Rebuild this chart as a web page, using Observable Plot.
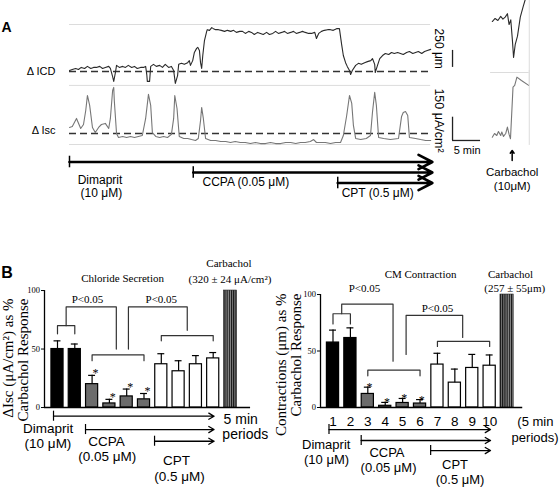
<!DOCTYPE html>
<html><head><meta charset="utf-8">
<script src="https://cdn.jsdelivr.net/npm/d3@7"></script>
<script src="https://cdn.jsdelivr.net/npm/@observablehq/plot@0.6"></script>
<style>
body{margin:0;background:#fff;}
#wrap{position:relative;width:560px;height:488px;overflow:hidden;background:#fff;}
.pane{position:absolute;}
.pane svg{overflow:visible;display:block;}
</style></head><body><div id="wrap"></div>
<script>
// ---------- Panel A data (time in min, ICD in µm, Isc in µA/cm²) ----------
const icdTrace = [[0,15],[0.5,30],[1.1,45],[1.6,30],[2.1,60],[2.7,45],[3.2,75],[3.8,45],[4.3,60],[4.8,60],[5.4,75],[5.9,45],[6.4,60],[7.0,75],[7.3,45],[7.7,-75],[7.9,-145],[8.2,-15],[8.4,90],[8.9,60],[9.5,75],[10.0,60],[10.5,90],[11.1,60],[11.6,75],[12.1,45],[12.7,60],[13.2,60],[13.6,75],[13.8,-45],[13.9,-145],[14.3,-145],[14.5,75],[15.0,105],[15.5,75],[16.1,90],[16.6,60],[17.1,105],[17.7,60],[18.2,75],[18.6,15],[18.9,-175],[19.3,-60],[19.5,105],[20.0,120],[20.5,105],[21.1,130],[21.4,160],[21.6,90],[22.0,160],[22.3,280],[22.7,340],[22.9,355],[23.2,310],[23.4,130],[23.6,45],[23.8,235],[24.1,455],[24.5,590],[24.6,615],[25.0,605],[25.4,645],[25.7,630],[26.1,615],[26.6,615],[27.1,605],[27.7,590],[28.2,605],[28.8,590],[29.3,605],[29.8,575],[30.4,590],[30.9,590],[31.4,560],[32.0,590],[32.5,575],[33.0,545],[33.6,575],[34.1,560],[34.6,545],[35.2,575],[35.7,545],[36.3,560],[36.8,590],[37.3,560],[37.9,575],[38.4,590],[38.9,560],[39.5,575],[40.0,590],[40.5,560],[41.1,575],[41.6,590],[42.1,575],[42.7,560],[43.2,560],[43.8,575],[44.1,485],[44.5,560],[45.0,590],[45.5,605],[46.1,615],[46.6,615],[47.1,605],[47.7,630],[48.2,630],[48.6,395],[48.9,235],[49.3,130],[49.6,75],[50.0,15],[50.2,-45],[50.5,15],[51.1,90],[51.6,120],[52.1,105],[52.7,130],[53.2,145],[53.8,160],[54.1,190],[54.5,105],[54.6,-15],[55.0,90],[55.4,190],[55.9,235],[56.4,265],[57.0,250],[57.5,280],[58.0,265],[58.6,280],[59.1,265],[59.6,250],[60.2,280],[60.7,295],[61.3,265],[61.8,280],[62.3,295],[62.9,265],[63.4,295],[63.9,310],[64.5,325]];
const iscTrace = [[0,39],[0.5,45],[1.25,97],[2.0,32],[2.5,58],[2.9,148],[3.2,245],[3.6,181],[4.1,39],[4.6,6],[5.2,39],[5.7,58],[6.4,65],[7.0,32],[7.3,97],[7.7,277],[7.9,297],[8.0,213],[8.4,0],[8.75,-26],[9.5,-19],[10.2,-26],[10.9,-19],[11.6,-26],[12.3,-19],[13.0,-13],[13.6,97],[14.1,252],[14.5,181],[14.8,6],[15.4,-19],[16.1,-26],[16.8,-19],[17.5,-26],[18.2,-6],[18.6,97],[18.8,245],[19.2,161],[19.6,-19],[20.4,-32],[21.1,-32],[21.8,-39],[22.5,-45],[23.0,-32],[23.4,84],[23.6,168],[23.9,97],[24.3,-32],[25.2,-45],[26.1,-45],[27.0,-52],[27.9,-52],[28.75,-58],[29.6,-52],[30.5,-58],[31.4,-58],[32.3,-65],[33.2,-58],[34.1,-65],[35.0,-65],[35.9,-58],[36.8,-65],[37.7,-65],[38.6,-58],[39.5,-58],[40.4,-65],[41.25,-58],[42.1,-58],[43.0,-52],[43.6,-39],[44.1,-58],[44.8,-58],[45.7,-58],[46.6,-65],[47.5,-58],[48.4,-58],[48.9,-13],[49.5,116],[50.0,245],[50.4,194],[50.7,52],[51.1,-32],[52.0,-39],[53.0,-32],[53.75,-13],[54.1,135],[54.5,265],[54.8,181],[55.2,-26],[56.1,-32],[57.3,-39],[58.75,-32],[59.3,110],[59.6,135],[60.0,142],[60.4,116],[60.7,-26],[61.8,-32],[62.7,-39],[63.6,-45],[64.5,-45]];
const carbIcdTrace = [[75.5,735],[76.0,780],[76.5,750],[77.0,810],[77.4,770],[77.8,800],[78.2,850],[78.5,690],[78.8,760],[79.1,450],[79.3,205],[79.6,400],[80.0,520],[80.5,800],[81.0,950],[81.5,1090],[81.9,1200]];
const carbIscTrace = [[75.5,-24],[75.9,0],[76.3,-13],[76.6,13],[77.0,-13],[77.2,10],[77.5,-19],[77.9,0],[78.2,41],[78.5,-6],[78.75,-34],[79.2,299],[79.5,310],[79.9,363],[80.7,342],[82.0,310]];
const drugNames = ["Dimaprit","CCPA","CPT"];
const drugStartMin = [0, 22.1, 47.9];
const traceEndMin = 64.8;

// ---------- Panel B data ----------
const periods = [1,2,3,4,5,6,7,8,9,10];
const groups = ["Dimaprit","Dimaprit","CCPA","CCPA","CCPA","CCPA","CPT","CPT","CPT","CPT"];
const starred = [false,false,true,true,true,true,false,false,false,false];
const clMean = [50, 50, 20, 3.5, 9.5, 7, 37, 31, 37, 42];
const clSem  = [7, 4.3, 7.5, 3.5, 6.3, 5, 9, 9, 7.4, 5];
const cmMean = [57.5, 61.5, 12, 1.5, 4, 3.5, 38, 22, 35, 37];
const cmSem  = [11, 9, 6, 3, 4, 3.5, 10, 12, 12, 9.5];
const carbacholPct = 100;
const clBrackets = [
  {x1:1, x2:2, top:70, left:63, right:63},
  {x1:1.5, x2:4.4, top:86, left:70, right:50},
  {x1:3, x2:6, top:45, left:40, right:40},
  {x1:5.1, x2:8.5, top:86, left:50, right:66},
  {x1:7, x2:10, top:61.5, left:57, right:57}
];
const cmBrackets = [
  {x1:1, x2:2, top:83, left:74, right:74},
  {x1:1.5, x2:4.45, top:91.5, left:83, right:41},
  {x1:3, x2:6, top:33, left:28, right:28},
  {x1:5.2, x2:8.45, top:81.6, left:47, right:62},
  {x1:7, x2:10, top:58.5, left:54, right:54}
];
const drugStartPeriod = [0.77, 2.62, 6.61];

const SANS = "'Liberation Sans', Arial, sans-serif";
const SERIF = "'Liberation Serif', 'Times New Roman', serif";
const groupFill = {Dimaprit:"#000000", CCPA:"#6b6b6b", CPT:"#ffffff"};
const wrap = document.getElementById("wrap");
function place(node, left, top){const d=document.createElement("div");d.className="pane";d.style.left=left+"px";d.style.top=top+"px";d.appendChild(node);wrap.appendChild(d);}
const X = d=>d[0], Y = d=>d[1];
const xA = {domain:[0,87.68], axis:null};
const baseStyle = {background:"transparent", overflow:"visible", fontFamily:SANS};

// ---------- A1: ICD ----------
place(Plot.plot({
  width:560, height:85, marginLeft:69, marginRight:0, marginTop:0, marginBottom:0,
  x:xA, y:{domain:[-206,1044], axis:null}, style:baseStyle,
  marks:[
    Plot.ruleY([691],{x1:0,x2:64.5,stroke:"#dcdcdc"}),
    Plot.ruleY([0],{x1:0,x2:64.5,stroke:"#333",strokeWidth:1.3,strokeDasharray:"7,4"}),
    Plot.line(icdTrace,{x:X,y:Y,stroke:"#2a2a2a",strokeWidth:1.1,clip:true}),
    Plot.line(carbIcdTrace,{x:X,y:Y,stroke:"#2a2a2a",strokeWidth:1.1,clip:true}),
    Plot.ruleX([82.1],{stroke:"#dcdcdc"}),
    Plot.ruleY([-15],{x1:75.2,x2:82.1,stroke:"#dcdcdc"}),
    Plot.ruleX([68.4],{y1:60,y2:310,stroke:"#222",strokeWidth:1.3}),
    Plot.text(["250 μm"],{x:65.9,y:335,rotate:90,fontSize:12,fontFamily:SANS}),
    Plot.text(["Δ ICD"],{x:-2.5,y:0,textAnchor:"end",fontSize:11,fontFamily:SANS}),
    Plot.text(["A"],{x:-11.25,y:578,lineAnchor:"bottom",fontSize:14,fontWeight:"bold",fontFamily:SANS})
  ]
}), 0, 0);

// ---------- A2: Isc ----------
place(Plot.plot({
  width:560, height:90, marginLeft:69, marginRight:0, marginTop:0, marginBottom:0,
  x:xA, y:{domain:[-174,406], axis:null}, style:baseStyle,
  marks:[
    Plot.ruleY([310,-71],{x1:0,x2:64.5,stroke:"#dcdcdc"}),
    Plot.ruleY([0],{x1:0,x2:64.5,stroke:"#333",strokeWidth:1.3,strokeDasharray:"7,4"}),
    Plot.line(iscTrace,{x:X,y:Y,stroke:"#777",strokeWidth:1.1}),
    Plot.line(carbIscTrace,{x:X,y:Y,stroke:"#777",strokeWidth:1.1}),
    Plot.ruleX([82.1],{y1:-77,y2:406,stroke:"#dcdcdc"}),
    Plot.ruleX([68.4],{y1:-45,y2:105,stroke:"#222",strokeWidth:1.3}),
    Plot.ruleY([-45],{x1:68.4,x2:73.4,stroke:"#222",strokeWidth:1.3}),
    Plot.text(["150 μA/cm²"],{x:65.9,y:84,rotate:90,fontSize:12.5,fontFamily:SANS}),
    Plot.text(["5 min"],{x:68.6,y:-135,textAnchor:"start",lineAnchor:"bottom",fontSize:11,fontFamily:SANS}),
    Plot.text(["Δ Isc"],{x:-2.5,y:19,textAnchor:"end",fontSize:11,fontFamily:SANS})
  ]
}), 0, 70);

// ---------- A3: protocol ----------
const protoA = drugNames.map((n,k)=>({name:n,start:drugStartMin[k],lane:k+1}));
place(Plot.plot({
  width:560, height:50, marginLeft:69, marginRight:0, marginTop:0, marginBottom:0,
  x:xA, y:{domain:[-0.095,4.667], reverse:true, axis:null}, style:baseStyle,
  marks:[
    Plot.arrow(protoA,{x1:"start",x2:()=>traceEndMin,y1:"lane",y2:"lane",stroke:"#000",strokeWidth:2.6,headLength:9,headAngle:55}),
    Plot.ruleX(protoA,{x:"start",y1:d=>d.lane-0.55,y2:d=>d.lane+0.55,stroke:"#000",strokeWidth:1.5}),
    Plot.text(["Dimaprit"],{x:5.45,y:3.05,lineAnchor:"bottom",fontSize:12,fontFamily:SANS}),
    Plot.text(["(10 μM)"],{x:5.7,y:4.38,lineAnchor:"bottom",fontSize:12,fontFamily:SANS}),
    Plot.text(["CCPA (0.05 μM)"],{x:23.75,y:3.24,textAnchor:"start",lineAnchor:"bottom",fontSize:12,fontFamily:SANS}),
    Plot.text(["CPT (0.5 μM)"],{x:48.6,y:4.38,textAnchor:"start",lineAnchor:"bottom",fontSize:12,fontFamily:SANS}),
    Plot.arrow([0],{x1:79.05,x2:79.05,y1:0.857,y2:-0.095,stroke:"#000",strokeWidth:1.5,headLength:5,headAngle:70}),
    Plot.text(["Carbachol"],{x:79.05,y:2.38,lineAnchor:"bottom",fontSize:11.5,fontFamily:SANS}),
    Plot.text(["(10μM)"],{x:79.05,y:3.71,lineAnchor:"bottom",fontSize:11.5,fontFamily:SANS})
  ]
}), 0, 150);

// ---------- Panel B builder ----------
function addStripes(svg,id){
  const defs=d3.select(svg).insert("defs",":first-child");
  const p=defs.append("pattern").attr("id",id).attr("patternUnits","userSpaceOnUse").attr("width",2.2).attr("height",10);
  p.append("rect").attr("width",2.2).attr("height",10).attr("fill","#8c8c8c");
  p.append("rect").attr("width",1.1).attr("height",10).attr("fill","#111");
}
function bracketPoints(brs){
  const pts=[];
  brs.forEach((b,k)=>{pts.push({id:k,x:b.x1,y:b.left},{id:k,x:b.x1,y:b.top},{id:k,x:b.x2,y:b.top},{id:k,x:b.x2,y:b.right});});
  return pts;
}
function panelB(cfg){
  const bars = periods.map((p,k)=>({i:p,mean:cfg.mean[k],sem:cfg.sem[k],group:groups[k],star:starred[k]}));
  const rows = drugNames.map((n,k)=>({name:n,start:drugStartPeriod[k],y:cfg.arrowY[k]}));
  const txt = (arr,opt)=>Plot.text(arr,{x:"x",y:"y",text:"t",lineAnchor:"bottom",fontFamily:SANS,fontSize:13.5,...opt});
  const svg = Plot.plot({
    width:280, height:243, marginLeft:cfg.marginLeft, marginRight:0, marginTop:0, marginBottom:0,
    x:{domain:cfg.xDomain, axis:null}, y:{domain:cfg.yDomain}, color:{type:"identity"},
    style:{background:"transparent",overflow:"visible",fontFamily:SERIF,fontSize:"8.5px"},
    marks:[
      Plot.axisY({ticks:[0,50,100],tickSize:3,tickPadding:1.5,label:null,fontSize:8.5,fontFamily:SERIF}),
      Plot.ruleX([cfg.xDomain[0]],{y1:0,y2:100,stroke:"#000",strokeWidth:1.3}),
      Plot.rectY(bars,{x1:d=>d.i-0.35,x2:d=>d.i+0.35,y1:0,y2:"mean",fill:d=>groupFill[d.group],stroke:"#000",strokeWidth:1.2}),
      Plot.rectY([carbacholPct],{x1:11-0.38,x2:11+0.38,y1:0,y2:d=>d,fill:`url(#${cfg.pid})`,stroke:"#222",strokeWidth:0.6}),
      Plot.ruleX(bars,{x:"i",y1:"mean",y2:d=>d.mean+d.sem,stroke:"#000",strokeWidth:1.2}),
      Plot.ruleY(bars,{y:d=>d.mean+d.sem,x1:d=>d.i-0.2,x2:d=>d.i+0.2,stroke:"#000",strokeWidth:1.2}),
      Plot.ruleY([0],{x1:cfg.xDomain[0],x2:cfg.axisEnd,stroke:"#000",strokeWidth:1.5}),
      Plot.text(bars.filter(d=>d.star),{x:d=>d.i+cfg.starDx,y:d=>d.mean+d.sem,text:()=>"*",lineAnchor:"bottom",dy:cfg.starDy,fontSize:12,fontFamily:SERIF}),
      Plot.line(bracketPoints(cfg.brackets),{x:"x",y:"y",z:"id",stroke:"#333",strokeWidth:1.2}),
      Plot.text(cfg.pLabels,{x:"x",y:"y",text:()=>"P<0.05",lineAnchor:"bottom",fontSize:11,fontFamily:SERIF}),
      Plot.arrow(rows,{x1:"start",x2:()=>cfg.arrowEnd,y1:"y",y2:"y",stroke:"#000",strokeWidth:1.3,headLength:7,headAngle:60}),
      Plot.ruleX(rows,{x:"start",y1:d=>d.y-cfg.tickH,y2:d=>d.y+cfg.tickH,stroke:"#000",strokeWidth:1.2}),
      txt(cfg.bottomLabels,{fontSize:cfg.labelSize}),
      txt(cfg.periodLabels,{textAnchor:"start",fontSize:cfg.periodSize}),
      ...(cfg.numbers?[Plot.text(periods,{x:d=>d,y:cfg.numbersY,text:d=>String(d),lineAnchor:"bottom",fontSize:13.5,fontFamily:SANS})]:[]),
      Plot.text(cfg.titles,{x:"x",y:"y",text:"t",lineAnchor:"bottom",fontSize:11,fontFamily:SERIF}),
      Plot.text(cfg.yTitles,{x:"x",y:"y",text:"t",rotate:-90,textAnchor:"end",lineAnchor:"middle",fontSize:15,fontFamily:SERIF}),
      ...(cfg.letter?[Plot.text([cfg.letter],{x:"x",y:"y",text:"t",lineAnchor:"bottom",fontSize:16,fontWeight:"bold",fontFamily:SANS})]:[])
    ]
  });
  addStripes(svg,cfg.pid);
  return svg;
}

// ---------- B left: Chloride secretion ----------
place(panelB({
  pid:"stripeL", mean:clMean, sem:clSem, brackets:clBrackets,
  marginLeft:44, xDomain:[0.249,13.89], yDomain:[-69.2,138.5], axisEnd:12.16,
  starDx:0.2, starDy:2, tickH:4.3, labelSize:13.5, periodSize:14,
  arrowY:[-7.4,-18.8,-28.8], arrowEnd:10.05,
  pLabels:[{x:2.73,y:89},{x:7.0,y:89}],
  bottomLabels:[{t:"Dimaprit",x:0.46,y:-21.4},{t:"(10 μM)",x:0.45,y:-34.2},{t:"CCPA",x:3.83,y:-32.5},{t:"(0.05 μM)",x:3.87,y:-45.8},{t:"CPT",x:7.88,y:-49.2},{t:"(0.5 μM)",x:8.05,y:-62.6}],
  periodLabels:[{t:"5 min",x:10.6,y:-13.7},{t:"periods",x:10.53,y:-26.5}],
  numbers:false,
  titles:[{t:"Chloride Secretion",x:4.76,y:107.7},{t:"Carbachol",x:10.91,y:119.7},{t:"(320 ± 24 μA/cm²)",x:10.97,y:106.8}],
  yTitles:[{t:"ΔIsc (μA/cm²) as %",x:-1.86,y:93.2},{t:"Carbachol Response",x:-0.99,y:93.2}],
  letter:{t:"B",x:-1.91,y:111}
}), 0, 245);

// ---------- B right: CM contraction ----------
place(panelB({
  pid:"stripeR", mean:cmMean, sem:cmSem, brackets:cmBrackets,
  marginLeft:40, xDomain:[0.282,14.07], yDomain:[-71.7,143.4], axisEnd:11.9,
  starDx:0.1, starDy:4, tickH:4.4, labelSize:13, periodSize:13,
  arrowY:[-19.5,-29.2,-38.1], arrowEnd:10.05,
  pLabels:[{x:2.81,y:101.8},{x:7.0,y:84.3}],
  bottomLabels:[{t:"Dimaprit",x:0.61,y:-36.3},{t:"(10 μM)",x:0.63,y:-49.6},{t:"CCPA",x:4.1,y:-44.2},{t:"(0.05 μM)",x:4.19,y:-57.5},{t:"CPT",x:8.01,y:-54.5},{t:"(0.5 μM)",x:8.3,y:-68.1}],
  periodLabels:[{t:"(5 min",x:11.59,y:-16.8},{t:"periods)",x:11.26,y:-30.1}],
  numbers:true, numbersY:-16.8,
  titles:[{t:"CM Contraction",x:6.03,y:115},{t:"Carbachol",x:11.2,y:114.5},{t:"(257 ± 55μm)",x:11.44,y:102.5}],
  yTitles:[{t:"Contractions (μm) as %",x:-1.96,y:100.9},{t:"Carbachol Response",x:-1.1,y:100.9}],
  letter:null
}), 280, 245);
</script></body></html>
